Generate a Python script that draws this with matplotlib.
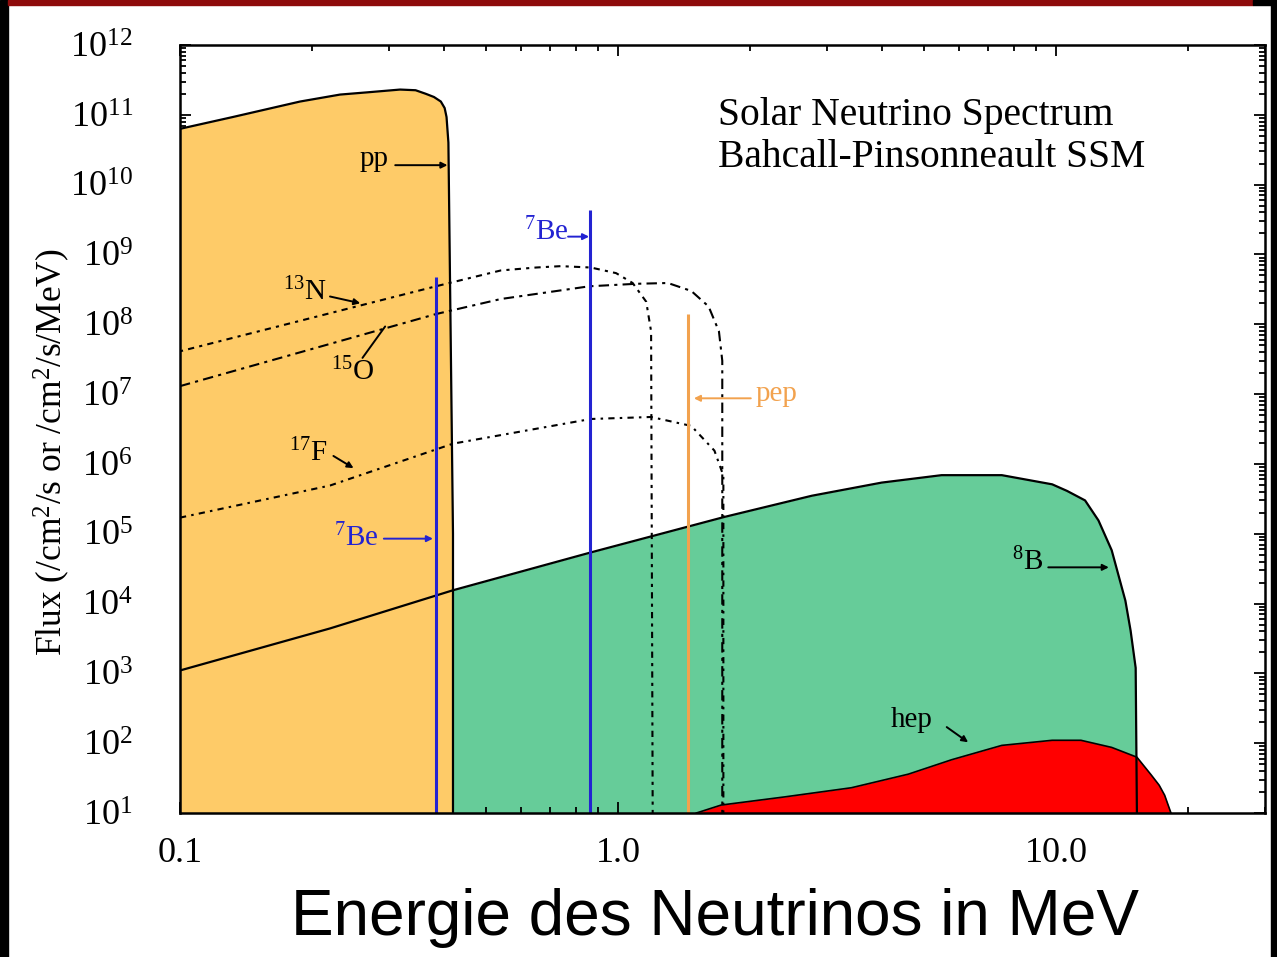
import matplotlib
matplotlib.use("Agg")
import matplotlib.pyplot as plt
from matplotlib.patches import Rectangle
from matplotlib.ticker import FixedLocator, LogLocator, NullFormatter, FixedFormatter

plt.rcParams['mathtext.fontset'] = 'custom'
plt.rcParams['mathtext.rm'] = 'Liberation Serif'
plt.rcParams['mathtext.it'] = 'Liberation Serif:italic'
plt.rcParams['mathtext.bf'] = 'Liberation Serif:bold'
plt.rcParams['mathtext.default'] = 'rm'
SERIF = 'Liberation Serif'

# ---------------- data ----------------
pp_E = [0.1, 0.132, 0.188, 0.232, 0.268, 0.318, 0.345, 0.364, 0.38, 0.394, 0.402, 0.406, 0.41, 0.42, 0.42]
pp_flux = [6.3e10, 9.3e10, 1.55e11, 1.95e11, 2.1e11, 2.3e11, 2.25e11, 2.0e11, 1.8e11, 1.55e11,
           1.25e11, 9.3e10, 4.0e10, 1.0e5, 10]

b8_E = [0.1, 0.22, 0.42, 0.867, 1.75, 2.77, 4.0, 5.48, 7.52, 9.8, 10.6, 11.65, 12.5, 13.4, 14.4,
        14.8, 15.2, 15.3]
b8_flux = [1.1e3, 4.4e3, 1.55e4, 5.4e4, 1.74e5, 3.5e5, 5.4e5, 6.9e5, 6.9e5, 5.1e5, 4.1e5, 3.0e5,
           1.55e5, 5.8e4, 1.1e4, 4.1e3, 1.2e3, 10]

hep_E = [1.51, 1.72, 2.4, 3.41, 4.6, 5.78, 7.52, 9.8, 11.4, 13.4, 15.3, 16.5, 17.2, 17.7, 18.3]
hep_flux = [10, 13, 17, 23, 36, 58, 93, 110, 110, 87, 63, 35, 25, 18, 10]

n13_E = [0.1, 0.384, 0.54, 0.65, 0.74, 0.867, 0.99, 1.08, 1.16, 1.19, 1.2]
n13_flux = [4.1e7, 3.5e8, 5.9e8, 6.5e8, 6.8e8, 6.5e8, 5.4e8, 3.9e8, 2.1e8, 7.9e7, 10]

o15_E = [0.1, 0.384, 0.54, 0.86, 1.10, 1.30, 1.47, 1.61, 1.70, 1.73, 1.73]
o15_flux = [1.3e7, 1.4e8, 2.3e8, 3.5e8, 3.8e8, 3.9e8, 3.0e8, 1.8e8, 7.9e7, 3.0e7, 10]

f17_E = [0.1, 0.22, 0.42, 0.867, 1.19, 1.47, 1.66, 1.74, 1.74]
f17_flux = [1.7e5, 4.9e5, 1.95e6, 4.4e6, 4.7e6, 3.5e6, 1.55e6, 6.8e5, 10]

be7_E = [0.384, 0.862]
be7_flux = [4.7e8, 4.3e9]
pep_E = [1.442]
pep_flux = [1.4e8]

x_ticks = [0.1, 1.0, 10.0]
x_ticklabels = ['0.1', '1.0', '10.0']
y_ticks = [10.0 ** k for k in range(1, 13)]
y_ticklabels = [r'$10^{%d}$' % k for k in range(1, 13)]

YMIN, YMAX = 10, 1e12
XMIN, XMAX = 0.1, 30

C_PP = '#FECB68'
C_B8 = '#66CC99'
C_HEP = '#FF0000'
C_BLUE = '#2323D2'
C_PEP = '#F2A24E'

# ---------------- figure ----------------
W, H = 1277, 957
fig = plt.figure(figsize=(W / 100, H / 100), dpi=100)
fig.patch.set_facecolor('white')

# frame decorations of the slide
fig.patches.append(Rectangle((0, 0), 8 / W, 1, transform=fig.transFigure, color='black', zorder=0))
fig.patches.append(Rectangle((1271 / W, 0), 6 / W, 1, transform=fig.transFigure, color='black', zorder=0))
fig.patches.append(Rectangle((8 / W, 1 - 5 / H), 1245 / W, 5 / H, transform=fig.transFigure,
                             color='#8E0B0B', zorder=0))
fig.patches.append(Rectangle((1253 / W, 1 - 5 / H), 24 / W, 5 / H, transform=fig.transFigure,
                             color='black', zorder=0))

ax = fig.add_axes([180 / W, 1 - 813 / H, (1265 - 180) / W, (813 - 45) / H])
ax.set_xscale('log')
ax.set_yscale('log')
ax.set_xlim(XMIN, XMAX)
ax.set_ylim(YMIN, YMAX)

# fills
ax.fill_between(b8_E, b8_flux, YMIN, color=C_B8, lw=0, zorder=1)
ax.fill_between(hep_E, hep_flux, YMIN, color=C_HEP, lw=0, zorder=2)
ax.plot(hep_E, hep_flux, color='black', lw=1.2, zorder=2.5)
ax.fill_between(pp_E, pp_flux, YMIN, color=C_PP, lw=0, zorder=3)
ax.plot(pp_E, pp_flux, color='black', lw=1.6, zorder=4)
ax.plot(b8_E, b8_flux, color='black', lw=1.6, zorder=5)

# CNO spectra
ax.plot(n13_E, n13_flux, color='black', lw=1.5, ls=(0, (1.5, 2.5, 3, 2.5)), zorder=6)
ax.plot(o15_E, o15_flux, color='black', lw=1.5, ls=(0, (5, 2.5, 1.5, 2.5)), zorder=6)
ax.plot(f17_E, f17_flux, color='black', lw=1.5, ls=(0, (3, 2.5, 1.2, 2.5)), zorder=6)

# line sources
ax.vlines(be7_E, YMIN, be7_flux, color=C_BLUE, lw=2.2, zorder=7)
ax.vlines(pep_E, YMIN, pep_flux, color=C_PEP, lw=2.2, zorder=7)

# ---------------- labels ----------------
def label(txt, xy, color='black', size=21):
    ax.text(xy[0], xy[1], txt, color=color, fontsize=size, family=SERIF,
            ha='center', va='center', zorder=10)

def arrow(tail, head, color='black', style='-|>'):
    ax.annotate('', xy=head, xytext=tail,
                arrowprops=dict(arrowstyle=style, color=color, lw=1.4,
                                mutation_scale=9, shrinkA=0, shrinkB=0), zorder=10)

label('pp', (0.277, 2.3e10))
arrow((0.31, 1.9e10), (0.408, 1.9e10))
label(r'$^{13}$N', (0.193, 2.9e8))
arrow((0.22, 2.5e8), (0.258, 2.0e8))
label(r'$^{15}$O', (0.248, 2.1e7))
arrow((0.261, 3.3e7), (0.294, 9.3e7), style='-')
label(r'$^{17}$F', (0.196, 1.45e6))
arrow((0.224, 1.3e6), (0.249, 8.7e5))
label(r'$^{7}$Be', (0.253, 8.7e4), color=C_BLUE)
arrow((0.292, 8.5e4), (0.378, 8.5e4), color=C_BLUE)
label(r'$^{7}$Be', (0.684, 2.1e9), color=C_BLUE)
arrow((0.769, 1.8e9), (0.859, 1.8e9), color=C_BLUE)
label('pep', (2.3, 1.0e7), color=C_PEP)
arrow((2.01, 8.7e6), (1.49, 8.7e6), color=C_PEP)
label(r'$^{8}$B', (8.6, 3.9e4))
arrow((9.6, 3.3e4), (13.2, 3.3e4))
label('hep', (4.68, 2.13e2))
arrow((5.63, 1.7e2), (6.3, 1.03e2))

ax.text(0.496, 0.932, 'Solar Neutrino Spectrum\nBahcall-Pinsonneault SSM',
        transform=ax.transAxes, ha='left', va='top', fontsize=28.5, family=SERIF,
        linespacing=1.18, zorder=10)

# ---------------- axes styling ----------------
for s in ax.spines.values():
    s.set_linewidth(1.8)
    s.set_zorder(20)

ax.xaxis.set_major_locator(FixedLocator(x_ticks))
ax.xaxis.set_major_formatter(FixedFormatter(x_ticklabels))
ax.xaxis.set_minor_locator(LogLocator(base=10, subs=range(2, 10), numticks=20))
ax.xaxis.set_minor_formatter(NullFormatter())
ax.yaxis.set_major_locator(FixedLocator(y_ticks))
ax.yaxis.set_major_formatter(FixedFormatter(y_ticklabels))
ax.yaxis.set_minor_locator(LogLocator(base=10, subs=range(2, 10), numticks=20))
ax.yaxis.set_minor_formatter(NullFormatter())

ax.tick_params(which='both', direction='in', top=True, right=True, width=1.3)
ax.tick_params(which='major', length=8)
ax.tick_params(which='minor', length=4)
ax.tick_params(axis='x', which='major', pad=17, labelsize=26)
ax.tick_params(axis='y', which='major', pad=34, labelsize=26)
for t in ax.get_xticklabels() + ax.get_yticklabels():
    t.set_family(SERIF)

fig.text(52 / W, 1 - 452 / H, r'Flux (/cm$^{2}$/s or /cm$^{2}$/s/MeV)', rotation=90,
         ha='center', va='center', fontsize=25.5, family=SERIF)
fig.text(715 / W, 1 - 918 / H, 'Energie des Neutrinos in MeV', ha='center', va='center',
         fontsize=46, family='Liberation Sans')

fig.savefig('out.png', dpi=100)
